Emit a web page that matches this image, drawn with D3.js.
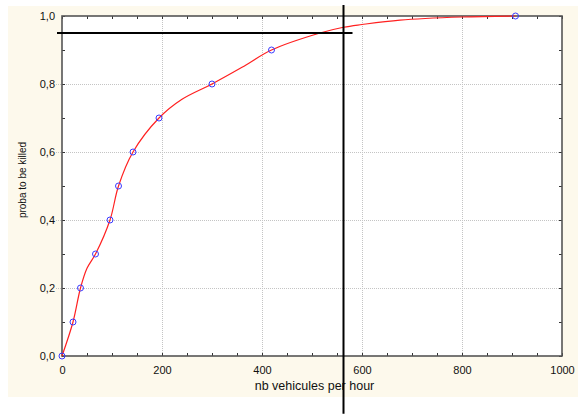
<!DOCTYPE html>
<html>
<head>
<meta charset="utf-8">
<script src="https://cdn.jsdelivr.net/npm/d3@7"></script>
<style>
  html, body { margin: 0; padding: 0; background: #ffffff; }
  svg { display: block; font-family: "Liberation Sans", Arial, sans-serif; }
</style>
</head>
<body>
<svg id="chart" width="578" height="414"></svg>
<script>
// Observed traffic levels and the matching probability
const vehicles = [0, 22, 37, 67, 96, 113, 142, 194, 300, 419, 907];
const proba    = [0, 0.1, 0.2, 0.3, 0.4, 0.5, 0.6, 0.7, 0.8, 0.9, 1.0];

// Smoothed fitted curve through the observations
const fitX = [0, 22, 37, 50, 67, 96, 113, 142, 194, 240, 300, 360, 419, 516, 563, 600, 676, 800, 907];
const fitY = [0, 0.1, 0.2, 0.258, 0.3, 0.4, 0.5, 0.6, 0.7, 0.755, 0.8, 0.849, 0.9, 0.95, 0.967, 0.975, 0.988, 0.997, 1.0];

// Reference lines: 95 % threshold and the traffic level where it is reached
const thresholdProba = 0.95;
const thresholdSpanX = [-10, 581];
const thresholdVehicles = 563;
const thresholdSpanY = [1.032, -0.17];

const xTicks = [0, 200, 400, 600, 800, 1000];
const yTicks = [0, 0.2, 0.4, 0.6, 0.8, 1.0];
const xMinorTicks = d3.range(0, 1001, 50);
const yMinorTicks = d3.range(0, 11).map(i => i / 10);

const xTitle = "nb vehicules per hour";
const yTitle = "proba to be killed";

const svg = d3.select("#chart");
const W = 578, H = 414;
const plot = { left: 62, right: 562, top: 16, bottom: 356 };

const x = d3.scaleLinear().domain([0, 1000]).range([plot.left, plot.right]);
const y = d3.scaleLinear().domain([0, 1]).range([plot.bottom, plot.top]);
const fmt = d => d3.format(".1f")(d).replace(".", ",");

// Cream panel behind the chart
svg.append("rect").attr("x", 8).attr("y", 6).attr("width", W - 8).attr("height", 391)
  .attr("fill", "#fdf9ec");
svg.append("rect").attr("x", plot.left).attr("y", plot.top)
  .attr("width", plot.right - plot.left).attr("height", plot.bottom - plot.top)
  .attr("fill", "#ffffff");

// Dotted grid at major ticks
const grid = svg.append("g").attr("stroke", "#c4c4c4").attr("stroke-width", 1)
  .attr("stroke-dasharray", "1,1");
grid.selectAll("line.gx").data(xTicks.slice(1, -1)).join("line")
  .attr("x1", d => Math.round(x(d)) + 0.5).attr("x2", d => Math.round(x(d)) + 0.5)
  .attr("y1", plot.top).attr("y2", plot.bottom);
grid.selectAll("line.gy").data(yTicks.slice(1, -1)).join("line")
  .attr("x1", plot.left - 6).attr("x2", plot.right)
  .attr("y1", d => Math.round(y(d)) + 0.5).attr("y2", d => Math.round(y(d)) + 0.5);

// Axes (ticks point inward on all four sides)
const axisColor = "#555555";
function styleAxis(g) {
  g.select(".domain").remove();
  g.selectAll(".tick line").attr("stroke", "#333333").attr("stroke-width", 1);
}
svg.append("g").attr("transform", `translate(0,${plot.bottom})`)
  .call(d3.axisBottom(x).tickValues(xMinorTicks).tickSize(-3).tickFormat(""))
  .call(styleAxis);
svg.append("g").attr("transform", `translate(0,${plot.top})`)
  .call(d3.axisTop(x).tickValues(xMinorTicks).tickSize(-3).tickFormat(""))
  .call(styleAxis);
svg.append("g").attr("transform", `translate(${plot.left},0)`)
  .call(d3.axisLeft(y).tickValues(yMinorTicks).tickSize(-3).tickFormat(""))
  .call(styleAxis);
svg.append("g").attr("transform", `translate(${plot.right},0)`)
  .call(d3.axisRight(y).tickValues(yMinorTicks).tickSize(-3).tickFormat(""))
  .call(styleAxis);

// Tick labels
svg.append("g").attr("transform", `translate(0,${plot.bottom})`)
  .call(d3.axisBottom(x).tickValues(xTicks).tickSize(0).tickPadding(10).tickFormat(d3.format("d")))
  .call(g => g.select(".domain").remove())
  .call(g => g.selectAll("text").attr("font-size", 11).attr("fill", "#111")
    .attr("font-family", "Liberation Sans, Arial, sans-serif"));
svg.append("g").attr("transform", `translate(${plot.left},0)`)
  .call(d3.axisLeft(y).tickValues(yTicks).tickSize(0).tickPadding(7).tickFormat(fmt))
  .call(g => g.select(".domain").remove())
  .call(g => g.selectAll("text").attr("font-size", 11).attr("fill", "#111")
    .attr("font-family", "Liberation Sans, Arial, sans-serif"));

// Frame
svg.append("rect").attr("x", plot.left).attr("y", plot.top)
  .attr("width", plot.right - plot.left).attr("height", plot.bottom - plot.top)
  .attr("fill", "none").attr("stroke", axisColor).attr("stroke-width", 1.6);

// Axis titles
svg.append("text").attr("x", 314.5).attr("y", 390).attr("text-anchor", "middle")
  .attr("font-size", 12.5).attr("fill", "#111").text(xTitle);
svg.append("text").attr("transform", "translate(26,180) rotate(-90)")
  .attr("text-anchor", "middle").attr("font-size", 10).attr("fill", "#111").text(yTitle);

// Fitted curve
const fit = fitX.map((v, i) => [v, fitY[i]]);
svg.append("path").datum(fit)
  .attr("fill", "none").attr("stroke", "#ff2020").attr("stroke-width", 1.2)
  .attr("d", d3.line().x(d => x(d[0])).y(d => y(d[1])).curve(d3.curveCatmullRom.alpha(0.5)));

// Observations
svg.append("g").selectAll("circle")
  .data(vehicles.map((v, i) => [v, proba[i]])).join("circle")
  .attr("cx", d => x(d[0])).attr("cy", d => y(d[1])).attr("r", 3)
  .attr("fill", "none").attr("stroke", "#3b3bff").attr("stroke-width", 1);

// Threshold lines
svg.append("line")
  .attr("x1", x(thresholdSpanX[0])).attr("x2", x(thresholdSpanX[1]))
  .attr("y1", y(thresholdProba)).attr("y2", y(thresholdProba))
  .attr("stroke", "#000").attr("stroke-width", 2);
svg.append("line")
  .attr("x1", x(thresholdVehicles)).attr("x2", x(thresholdVehicles))
  .attr("y1", y(thresholdSpanY[0])).attr("y2", y(thresholdSpanY[1]))
  .attr("stroke", "#000").attr("stroke-width", 2);
</script>
</body>
</html>
